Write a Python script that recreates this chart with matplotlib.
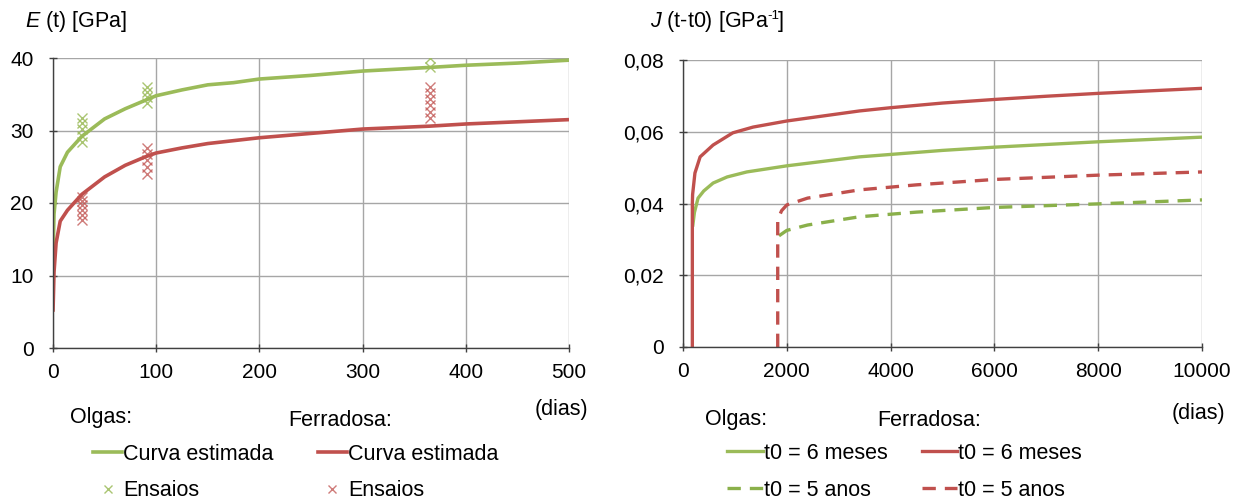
import matplotlib
matplotlib.use("Agg")
import matplotlib.pyplot as plt
from matplotlib.lines import Line2D
from matplotlib.ticker import FuncFormatter

plt.rcParams['font.family'] = ['Liberation Sans', 'DejaVu Sans']
plt.rcParams['mathtext.fontset'] = 'custom'
plt.rcParams['mathtext.rm'] = 'Liberation Sans'
plt.rcParams['mathtext.it'] = 'Liberation Sans:italic'

GREEN = '#9BBB59'
GREEN_D = '#8AB04A'
RED = '#C0504D'

# ---- Left chart: E(t) ----
t_olgas = [0, 1, 3, 7, 14, 28, 50, 70, 90, 100, 125, 150, 175, 200, 250, 300, 365, 400, 450, 500]
e_olgas = [12.5, 18.5, 21.5, 25.0, 27.0, 29.2, 31.6, 33.0, 34.2, 34.8, 35.6, 36.3, 36.6, 37.1, 37.6, 38.2, 38.7, 39.0, 39.3, 39.7]
t_ferr = [0, 1, 3, 7, 14, 28, 50, 70, 90, 100, 125, 150, 175, 200, 250, 300, 365, 400, 450, 500]
e_ferr = [5.0, 10.5, 14.5, 17.5, 19.0, 21.2, 23.6, 25.2, 26.4, 26.9, 27.6, 28.2, 28.6, 29.0, 29.6, 30.2, 30.6, 30.9, 31.2, 31.5]

ens_olgas_t = [28, 28, 28, 28, 28, 91, 91, 91, 91, 365, 365]
ens_olgas_e = [28.4, 29.3, 30.2, 31.0, 31.7, 33.8, 34.6, 35.3, 36.0, 38.8, 40.0]
ens_ferr_t = [28, 28, 28, 28, 28, 28, 91, 91, 91, 91, 91, 365, 365, 365, 365, 365, 365]
ens_ferr_e = [17.6, 18.3, 19.0, 19.7, 20.3, 20.8, 24.0, 24.9, 25.9, 26.8, 27.6, 31.7, 32.6, 33.5, 34.3, 35.2, 36.0]

# ---- Right chart: J(t-t0) ----
t_o_6m = [190, 220, 290, 400, 580, 850, 1230, 2000, 3400, 5000, 6000, 8000, 10000]
j_o_6m = [0.034, 0.0375, 0.0415, 0.0435, 0.0457, 0.0474, 0.0488, 0.0505, 0.0530, 0.0548, 0.0557, 0.0572, 0.0585]
t_f_6m = [180, 180, 185, 230, 330, 580, 960, 1350, 2000, 3400, 4000, 5000, 6000, 7000, 8000, 9000, 10000]
j_f_6m = [0.0, 0.040, 0.0425, 0.0485, 0.0530, 0.0563, 0.0597, 0.0613, 0.0630, 0.0658, 0.0667, 0.0680, 0.0690, 0.0699, 0.0707, 0.0714, 0.0721]
t_o_5a = [1850, 2000, 2400, 3400, 4500, 6000, 8000, 10000]
j_o_5a = [0.031, 0.0325, 0.034, 0.0363, 0.0376, 0.0389, 0.0399, 0.0410]
t_f_5a = [1825, 1825, 1900, 2000, 2400, 3400, 4500, 6000, 8000, 10000]
j_f_5a = [0.0, 0.0355, 0.038, 0.0396, 0.0415, 0.0438, 0.0452, 0.0467, 0.0479, 0.0488]

fig = plt.figure(figsize=(12.4, 5.03), dpi=100)
FS = 15
LFS = 15.5

def style(ax):
    for s in ['top', 'right']:
        ax.spines[s].set_visible(False)
    for s in ['left', 'bottom']:
        ax.spines[s].set_color('#404040')
        ax.spines[s].set_linewidth(1.0)
    ax.grid(True, color='#A6A6A6', linewidth=1.0)
    ax.set_axisbelow(True)
    ax.tick_params(labelsize=FS, length=6, width=1, color='#404040', direction='inout')
    ax.tick_params(axis='y', pad=11)
    ax.tick_params(axis='x', pad=8)

ax1 = fig.add_axes([53/1240, 1-348/503, (569-53)/1240, (348-58)/503])
style(ax1)
ax1.plot(t_olgas, e_olgas, color=GREEN, lw=2.6, solid_capstyle='butt')
ax1.plot(t_ferr, e_ferr, color=RED, lw=2.6, solid_capstyle='butt')
ax1.plot(ens_olgas_t, ens_olgas_e, ls='none', marker='x', ms=7, mew=1.0, color=GREEN, alpha=0.85)
ax1.plot(ens_ferr_t, ens_ferr_e, ls='none', marker='x', ms=7, mew=1.0, color=RED, alpha=0.75)
ax1.set_xlim(0, 500)
ax1.set_ylim(0, 40)
ax1.set_xticks(range(0, 501, 100))
ax1.set_yticks(range(0, 41, 10))

ax2 = fig.add_axes([683/1240, 1-347/503, (1202-683)/1240, (347-60)/503])
style(ax2)
ax2.plot(t_o_6m, j_o_6m, color=GREEN, lw=2.4)
ax2.plot(t_f_6m, j_f_6m, color=RED, lw=2.4)
ax2.plot(t_o_5a, j_o_5a, color=GREEN_D, lw=2.4, dashes=(4, 2.7))
ax2.plot(t_f_5a, j_f_5a, color=RED, lw=2.4, dashes=(4, 2.7))
ax2.set_xlim(0, 10000)
ax2.set_ylim(0, 0.08)
ax2.set_xticks(range(0, 10001, 2000))
ax2.set_yticks([0, 0.02, 0.04, 0.06, 0.08])
ax2.yaxis.set_major_formatter(FuncFormatter(lambda v, p: '0' if abs(v) < 1e-12 else f'{v:.2f}'.replace('.', ',')))

# axis titles
fig.text(25/1240, 1-21/503, '$E$ (t) [GPa]', fontsize=LFS, va='center', ha='left')
tj = fig.text(650/1240, 1-21/503, '$J$ (t-t0) [GPa', fontsize=LFS, va='center', ha='left')
fig.canvas.draw()
bb = tj.get_window_extent()
x_end = (bb.x1 - 2) / fig.bbox.width
ts = fig.text(x_end, 1-16/503, '-1', fontsize=LFS*0.62, va='center', ha='left')
fig.canvas.draw()
bb2 = ts.get_window_extent()
fig.text((bb2.x1 - 1) / fig.bbox.width, 1-21/503, ']', fontsize=LFS, va='center', ha='left')

fig.text(588/1240, 1-410/503, '(dias)', fontsize=LFS, va='center', ha='right')
fig.text(1225/1240, 1-414/503, '(dias)', fontsize=LFS, va='center', ha='right')

# left legend
fig.text(70/1240, 1-417/503, 'Olgas:', fontsize=LFS, va='center')
fig.text(288/1240, 1-421/503, 'Ferradosa:', fontsize=LFS, va='center')
h1 = [Line2D([], [], color=GREEN, lw=2.6), Line2D([], [], ls='none', marker='x', ms=6, mew=1, color=GREEN, alpha=0.85),
      Line2D([], [], color=RED, lw=2.6), Line2D([], [], ls='none', marker='x', ms=6, mew=1, color=RED, alpha=0.75)]
l1 = ['Curva estimada', 'Ensaios', 'Curva estimada', 'Ensaios']
fig.legend(h1, l1, ncol=2, loc='upper left', bbox_to_anchor=(93/1240, 1-444/503), frameon=False,
           fontsize=LFS, handlelength=1.35, handletextpad=0.05, columnspacing=2.05, labelspacing=0.72,
           borderaxespad=0, borderpad=0)

# right legend
fig.text(705/1240, 1-419/503, 'Olgas:', fontsize=LFS, va='center')
fig.text(877/1240, 1-420/503, 'Ferradosa:', fontsize=LFS, va='center')
h2 = [Line2D([], [], color=GREEN, lw=2.4), Line2D([], [], color=GREEN_D, lw=2.4, dashes=(4, 2.7)),
      Line2D([], [], color=RED, lw=2.4), Line2D([], [], color=RED, lw=2.4, dashes=(4, 2.7))]
l2 = ['t0 = 6 meses', 't0 = 5 anos', 't0 = 6 meses', 't0 = 5 anos']
fig.legend(h2, l2, ncol=2, loc='upper left', bbox_to_anchor=(727/1240, 1-443/503), frameon=False,
           fontsize=LFS, handlelength=1.65, handletextpad=0.05, columnspacing=1.6, labelspacing=0.72,
           borderaxespad=0, borderpad=0)

fig.savefig('out.png', dpi=100)
